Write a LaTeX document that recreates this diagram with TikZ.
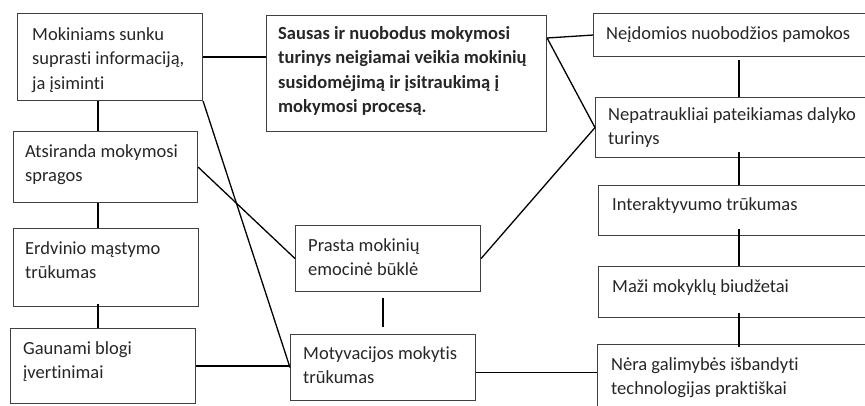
\documentclass[tikz,border=0pt]{standalone}
\usepackage{fontspec}
\setmainfont{Carlito}[Ligatures=NoCommon]
\usetikzlibrary{positioning}
\definecolor{boxgray}{RGB}{64,64,64}
\definecolor{txtgray}{RGB}{38,38,38}

\begin{document}
\begin{tikzpicture}[x=1pt, y=-1pt,
    cbox/.style={draw=boxgray, line width=1.1pt, anchor=north west, inner sep=0pt},
    ctext/.style={anchor=north west, inner sep=0pt, align=left, text=txtgray,
                  font=\fontsize{18.5}{24.5}\selectfont},
    mtext/.style={ctext, font=\fontsize{18.5}{24.5}\selectfont\bfseries},
    link/.style={line width=1.3pt}]
    \useasboundingbox (0,0) rectangle (865,406);
    \clip (0,0) rectangle (865,406);

    % Left column
    \node[cbox, minimum width=185pt, minimum height=87pt] (sunku) at (17,13) {};
    \node[ctext, below right=14pt and 15pt of sunku.north west] (sunku-t) {Mokiniams sunku\\suprasti informaciją,\\ja įsiminti};
    \node[cbox, minimum width=184pt, minimum height=71pt] (spragos) at (13,131) {};
    \node[ctext, below right=13pt and 12pt of spragos.north west] (spragos-t) {Atsiranda mokymosi\\spragos};
    \node[cbox, minimum width=185pt, minimum height=78pt] (erdv) at (13,228) {};
    \node[ctext, below right=13pt and 12pt of erdv.north west] (erdv-t) {Erdvinio mąstymo\\trūkumas};
    \node[cbox, minimum width=185pt, minimum height=75pt] (vert) at (10,328) {};
    \node[ctext, below right=13pt and 13pt of vert.north west] (vert-t) {Gaunami blogi\\įvertinimai};

    % Middle
    \node[cbox, minimum width=280pt, minimum height=116pt] (main) at (266,15) {};
    \node[mtext, below right=11pt and 12pt of main.north west] (main-t) {Sausas ir nuobodus mokymosi\\turinys neigiamai veikia mokinių\\susidomėjimą ir įsitraukimą į\\mokymosi procesą.};
    \node[cbox, minimum width=185pt, minimum height=66pt] (bukle) at (295,225) {};
    \node[ctext, below right=13pt and 13pt of bukle.north west] (bukle-t) {Prasta mokinių\\emocinė būklė};
    \node[cbox, minimum width=185pt, minimum height=66pt] (motyv) at (290,334) {};
    \node[ctext, below right=12pt and 13pt of motyv.north west] (motyv-t) {Motyvacijos mokytis\\trūkumas};

    % Right column
    \node[cbox, minimum width=300pt, minimum height=43pt] (pamokos) at (593,13) {};
    \node[ctext, below right=13pt and 13pt of pamokos.north west] (pamokos-t) {Neįdomios nuobodžios pamokos};
    \node[cbox, minimum width=300pt, minimum height=60pt] (turinys) at (595,97) {};
    \node[ctext, below right=10pt and 13pt of turinys.north west] (turinys-t) {Nepatraukliai pateikiamas dalyko\\turinys};
    \node[cbox, minimum width=300pt, minimum height=50pt] (interakt) at (598,185) {};
    \node[ctext, below right=12pt and 14pt of interakt.north west] (interakt-t) {Interaktyvumo trūkumas};
    \node[cbox, minimum width=300pt, minimum height=51pt] (biudz) at (598,266) {};
    \node[ctext, below right=13pt and 14pt of biudz.north west] (biudz-t) {Maži mokyklų biudžetai};
    \node[cbox, minimum width=300pt, minimum height=80pt] (techn) at (597,344) {};
    \node[ctext, below right=13pt and 14pt of techn.north west] (techn-t) {Nėra galimybės išbandyti\\technologijas praktiškai};

    % Connectors
    \coordinate (lx) at (98,0);
    \coordinate (rx) at (739,0);
    \coordinate (mainr) at ([yshift=-23pt]main.north east);

    \draw[link] (sunku.east) -- (sunku.east -| main.west);
    \draw[link] (sunku.south -| lx) -- (spragos.north -| lx);
    \draw[link] (spragos.south -| lx) -- (erdv.north -| lx);
    \draw[link] ([yshift=3pt]erdv.south -| lx) -- (vert.north -| lx);
    \draw[link] (sunku.south east) -- (motyv.west);
    \draw[link] (spragos.east) -- (bukle.west);
    \draw[link] (vert.east) -- (vert.east -| motyv.west);
    \draw[link] (mainr) -- (pamokos.west);
    \draw[link] (mainr) -- (turinys.west);
    \draw[link] (turinys.west) -- (bukle.east);
    \draw[link, shorten <=7pt, shorten >=6pt] (motyv.north) -- (motyv.north |- bukle.south);
    \draw[link] ([yshift=-5pt]motyv.east) -- ([yshift=-5pt]motyv.east -| techn.west);

    \draw[link] ([yshift=-3pt]pamokos.south -| rx) -- (turinys.north -| rx);
    \draw[link] ([yshift=6pt]turinys.south -| rx) -- (interakt.north -| rx);
    \draw[link] ([yshift=7pt]interakt.south -| rx) -- (biudz.north -| rx);
    \draw[link] ([yshift=5pt]biudz.south -| rx) -- ([yshift=-3pt]techn.north -| rx);
\end{tikzpicture}
\end{document}
